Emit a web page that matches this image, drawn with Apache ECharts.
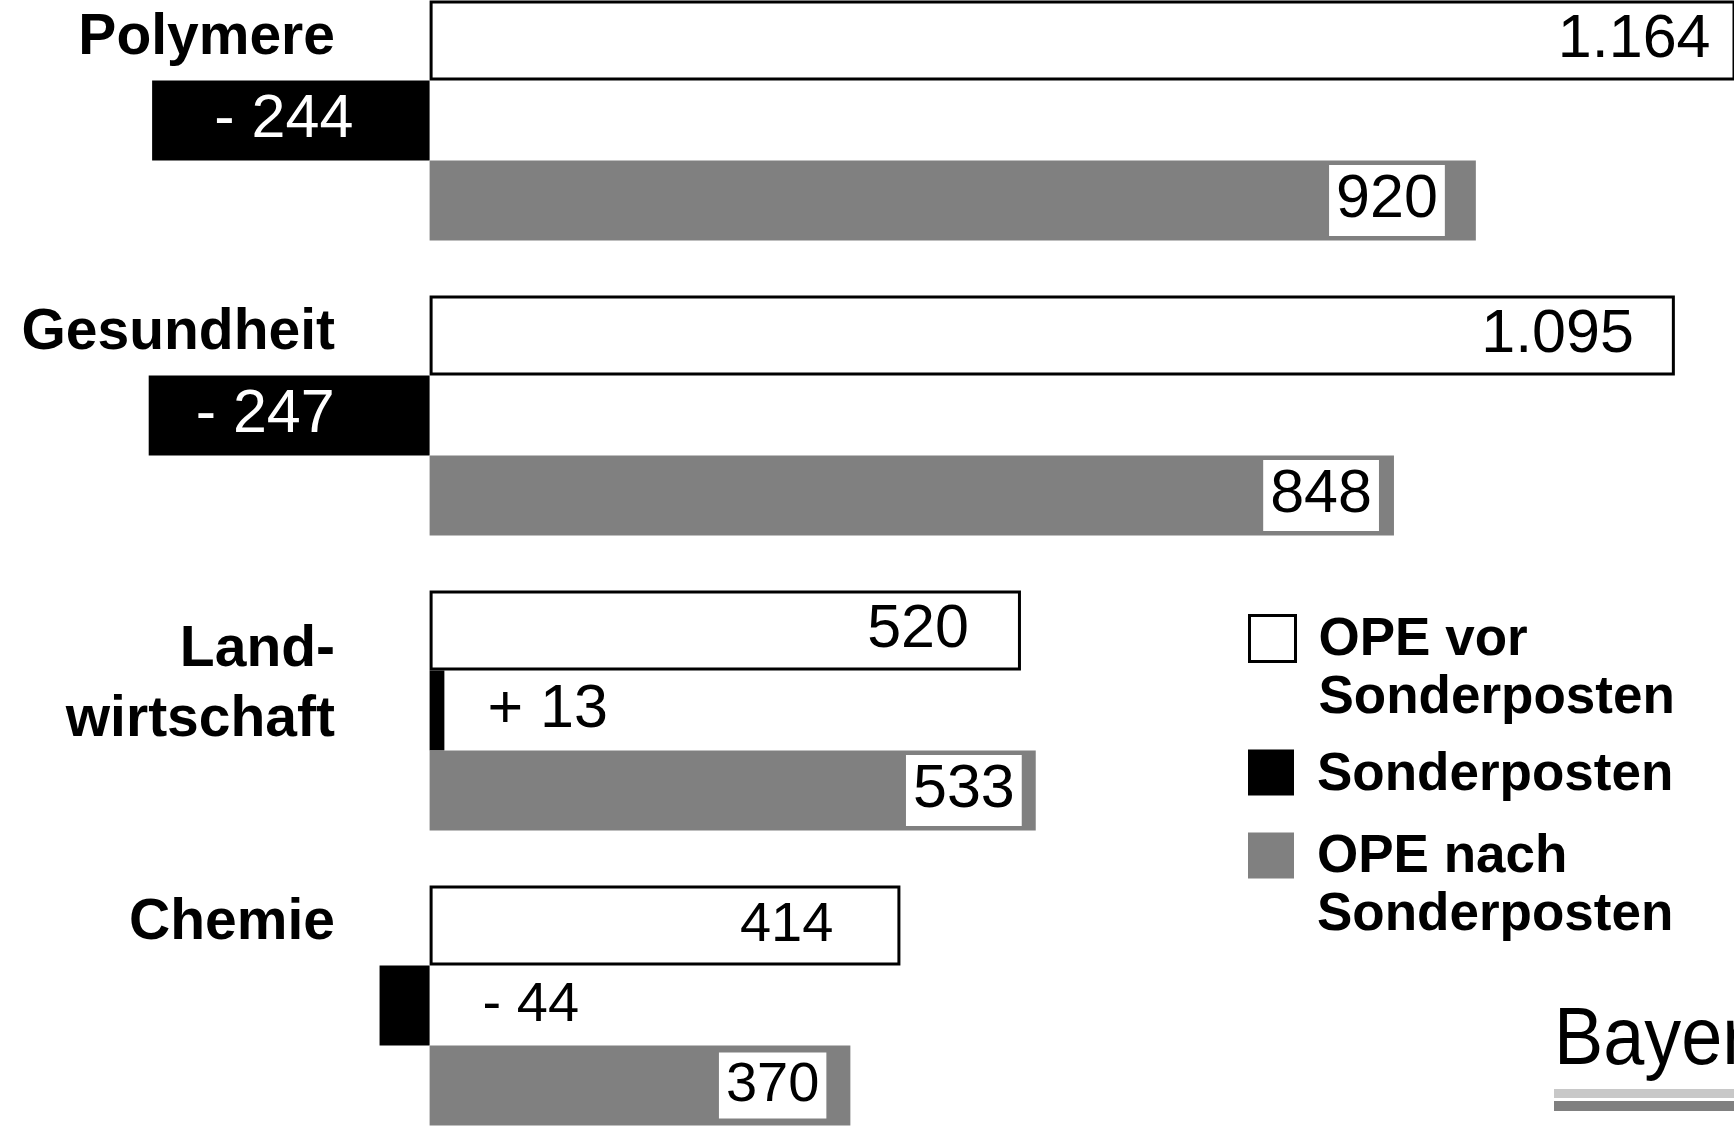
<!DOCTYPE html>
<html>
<head>
<meta charset="utf-8">
<script src="https://cdn.jsdelivr.net/npm/echarts@6/dist/echarts.min.js"></script>
<style>
html,body{margin:0;padding:0;background:#fff;}
#c{width:1734px;height:1141px;}
</style>
</head>
<body>
<div id="c"></div>
<script>
// ---- data ----
const categories = ['Polymere', 'Gesundheit', 'Land-\nwirtschaft', 'Chemie'];
const opeVor = [1164, 1095, 520, 414];
const sonderposten = [-244, -247, 13, -44];
const opeNach = [920, 848, 533, 370];
const seriesNames = ['OPE vor\nSonderposten', 'Sonderposten', 'OPE nach\nSonderposten'];

// ---- styling ----
const FONT = '"Liberation Sans", Arial, Helvetica, sans-serif';
const labelSize = [61, 61, 61, 56];
const whiteLabelDist = [25, 41, 52, 67];
const grayLabelDist = [31, 15, 14, 24];
const blackInsideOffset = [-7, -24, 0, 0];
const blackOutsideDist = [0, 0, 43, 53];

function fmt(v) {
  const s = String(Math.abs(v));
  return s.length > 3 ? s.slice(0, s.length - 3) + '.' + s.slice(-3) : s;
}
function fmtDelta(v) { return (v < 0 ? '- ' : '+ ') + fmt(v); }

const chart = echarts.init(document.getElementById('c'), null, {renderer: 'canvas', width: 1734, height: 1141});

const catRich = {
  s: {fontSize: 57, fontWeight: 'bold', fontFamily: FONT, color: '#000', lineHeight: 70},
  g: {fontSize: 1, lineHeight: 164},
  g2: {fontSize: 1, lineHeight: 50}
};
function catFormatter(v) {
  if (v.indexOf('\n') >= 0) {
    return v.split('\n').map(s => '{s|' + s + '}').join('\n') + '\n{g2| }';
  }
  return '{s|' + v + '}\n{g| }';
}

const legRich = {
  t: {fontSize: 53, fontWeight: 'bold', fontFamily: FONT, color: '#000', lineHeight: 58, padding: [0, 0, 0, 18]},
  g1: {fontSize: 1, lineHeight: 62},
  g2: {fontSize: 1, lineHeight: 6}
};
function legFormatter(name) {
  const lines = name.split('\n');
  const gap = lines.length > 1 ? 'g1' : 'g2';
  return '{' + gap + '| }\n' + lines.map(s => '{t|' + s + '}').join('\n');
}
function makeLegend(idx, top, itemStyle) {
  return {
    data: [seriesNames[idx]], left: 1248, top: top, orient: 'vertical', padding: 0,
    itemWidth: 46, itemHeight: 46, icon: 'rect', selectedMode: false,
    itemStyle: itemStyle, formatter: legFormatter,
    textStyle: {rich: legRich}
  };
}

const option = {
  backgroundColor: '#fff',
  animation: false,
  grid: {left: 2, right: 0, top: -27, bottom: -12, containLabel: false, outerBoundsMode: 'none'},
  xAxis: {type: 'value', min: -376, max: 1147, show: false},
  yAxis: {
    type: 'category', data: categories, inverse: true,
    axisLine: {show: false, onZero: false}, axisTick: {show: false}, splitLine: {show: false},
    axisLabel: {inside: true, margin: 333, align: 'right', formatter: catFormatter, rich: catRich}
  },
  legend: [
    makeLegend(0, 580, {color: '#fff', borderColor: '#000', borderWidth: 3}),
    makeLegend(1, 743, {color: '#000', borderWidth: 0}),
    makeLegend(2, 797, {color: '#808080', borderWidth: 0})
  ],
  series: [
    {
      name: seriesNames[0], type: 'bar', barWidth: 80, barGap: '0%', silent: true,
      itemStyle: {color: '#fff', borderColor: '#000', borderWidth: 3},
      label: {show: true, position: 'insideRight', color: '#000', fontSize: 61, fontFamily: FONT,
              formatter: p => fmt(p.value)},
      data: opeVor.map((v, i) => ({value: v, label: {distance: whiteLabelDist[i], fontSize: labelSize[i]}}))
    },
    {
      name: seriesNames[1], type: 'bar', barWidth: 80, barGap: '0%', silent: true,
      itemStyle: {color: '#000'},
      label: {show: true, fontSize: 61, fontFamily: FONT, formatter: p => fmtDelta(p.value)},
      data: sonderposten.map((v, i) => ({
        value: v,
        label: i < 2
          ? {position: 'inside', color: '#fff', offset: [blackInsideOffset[i], 0], fontSize: labelSize[i]}
          : {position: 'right', color: '#000', distance: blackOutsideDist[i], fontSize: labelSize[i]}
      }))
    },
    {
      name: seriesNames[2], type: 'bar', barWidth: 80, barGap: '0%', silent: true,
      itemStyle: {color: '#808080'},
      label: {show: true, position: 'insideRight', color: '#000', fontSize: 61, fontFamily: FONT,
              backgroundColor: '#fff', padding: [4, 7, 2, 7], lineHeight: 65,
              formatter: p => fmt(p.value)},
      data: opeNach.map((v, i) => ({value: v, label: {
        distance: grayLabelDist[i], fontSize: labelSize[i], lineHeight: labelSize[i] + 4
      }}))
    }
  ],
  graphic: [
    {type: 'text', x: 1554, y: 1041, scaleX: 0.9, silent: true,
     style: {text: 'Bayer', fontSize: 82, fontFamily: FONT, fill: '#000', align: 'left', verticalAlign: 'middle'}},
    {type: 'rect', silent: true, shape: {x: 1554, y: 1089, width: 180, height: 9}, style: {fill: '#c8c8c8'}},
    {type: 'rect', silent: true, shape: {x: 1554, y: 1101, width: 180, height: 10}, style: {fill: '#808080'}}
  ]
};
chart.setOption(option);
</script>
</body>
</html>
